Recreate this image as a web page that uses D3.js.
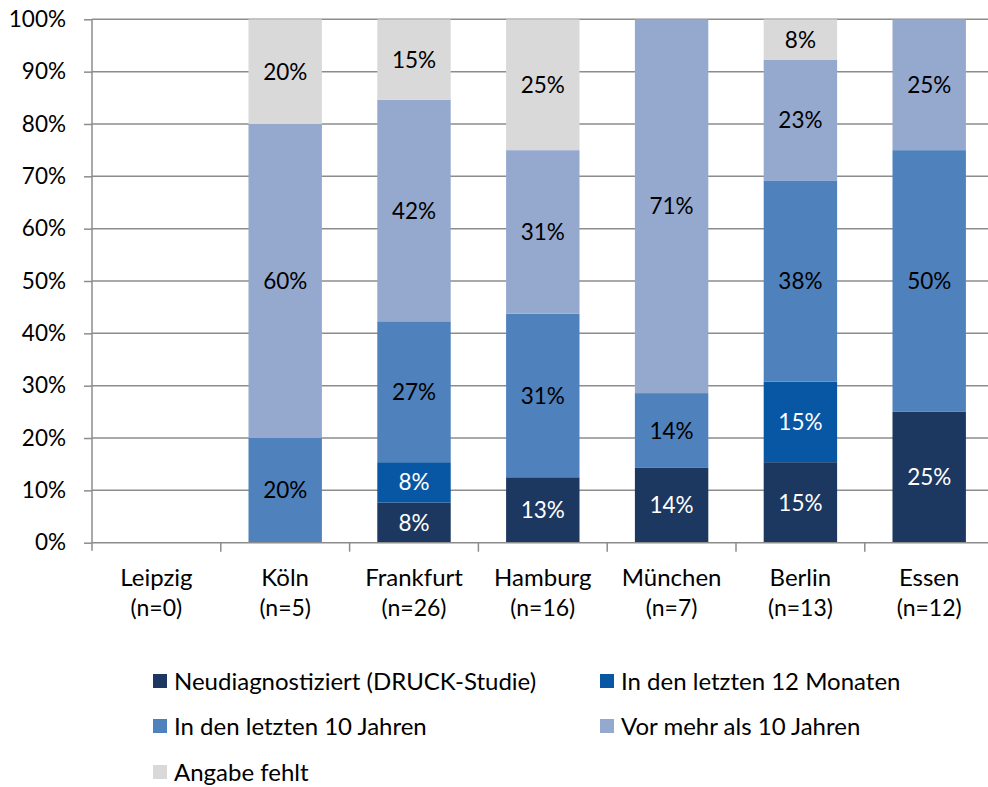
<!DOCTYPE html>
<html><head><meta charset="utf-8">
<script src="https://cdn.jsdelivr.net/npm/d3@7"></script>
<style>html,body{margin:0;padding:0;background:#fff;}svg{display:block;font-family:Lato,"Open Sans",sans-serif;}</style>
</head><body><svg id="c" width="988" height="787"></svg>
<script>
const categories = ["Leipzig","Köln","Frankfurt","Hamburg","München","Berlin","Essen"];
const nLabels = ["(n=0)","(n=5)","(n=26)","(n=16)","(n=7)","(n=13)","(n=12)"];
const seriesNames = ["Neudiagnostiziert (DRUCK-Studie)","In den letzten 12 Monaten","In den letzten 10 Jahren","Vor mehr als 10 Jahren","Angabe fehlt"];
const seriesColors = ["#1c3760","#0757a5","#4f81bd","#95a9cf","#d9d9d9"];
const labelColors = ["#fff","#fff","#000","#000","#000"];
const neudiagnostiziert = [0, 0, 7.69, 12.5, 14.29, 15.38, 25];
const letzte12Monate   = [0, 0, 7.69, 0, 0, 15.38, 0];
const letzte10Jahre    = [0, 20, 26.92, 31.25, 14.29, 38.46, 50];
const mehrAls10Jahre   = [0, 60, 42.31, 31.25, 71.43, 23.08, 25];
const angabeFehlt      = [0, 20, 15.38, 25, 0, 7.69, 0];
const yTicks = [0,10,20,30,40,50,60,70,80,90,100];

(function(){
const seriesValues = [neudiagnostiziert, letzte12Monate, letzte10Jahre, mehrAls10Jahre, angabeFehlt];
const rows = categories.map((c,i)=>{const r={cat:c}; seriesNames.forEach((s,j)=>r[s]=seriesValues[j][i]); return r;});
const stack = d3.stack().keys(seriesNames)(rows);

const svg = d3.select("#c");
const pl = 92, pr = 993.6, pt = 19.3, pb = 542.7;
const x = d3.scaleBand().domain(categories).range([pl,pr]).paddingInner(0.43).paddingOuter(0.215);
const xb = d3.scaleBand().domain(categories).range([pl,pr]);
const y = d3.scaleLinear().domain([0,100]).range([pb,pt]);

svg.append("g").selectAll("line").data(yTicks.filter(t=>t>0)).join("line")
  .attr("x1",pl).attr("x2",988).attr("y1",d=>y(d)).attr("y2",d=>y(d))
  .attr("stroke","#8c8c8c").attr("stroke-width",1.5);

const g = svg.append("g");
stack.forEach((layer,j)=>{
  g.append("g").selectAll("rect").data(layer.map((d,i)=>({d,i}))).join("rect")
    .attr("x",o=>x(categories[o.i])).attr("width",x.bandwidth())
    .attr("y",o=>y(o.d[1])).attr("height",o=>y(o.d[0])-y(o.d[1]))
    .attr("fill",seriesColors[j]);
});
stack.forEach((layer,j)=>{
  g.append("g").selectAll("text").data(layer.map((d,i)=>({d,i})).filter(o=>o.d[1]-o.d[0]>0)).join("text")
    .attr("x",o=>x(categories[o.i])+x.bandwidth()/2)
    .attr("y",o=>y((o.d[0]+o.d[1])/2))
    .attr("dy","0.36em").attr("text-anchor","middle")
    .attr("font-size",22.5).attr("fill",labelColors[j])
    .text(o=>Math.round(o.d[1]-o.d[0])+"%");
});

const yAxis = svg.append("g").attr("transform",`translate(${pl},0)`)
  .call(d3.axisLeft(y).tickValues(yTicks).tickFormat(d=>d+"%").tickSize(8).tickPadding(18));
yAxis.select(".domain").attr("stroke","#8c8c8c").attr("stroke-width",1.5).attr("d",`M0,${pt}V${pb+8}`);
yAxis.selectAll(".tick line").attr("stroke","#8c8c8c").attr("stroke-width",1.5);
yAxis.selectAll(".tick text").attr("font-size",22.5).attr("fill","#000").attr("font-family","Lato,sans-serif");

const xa = svg.append("g");
xa.append("line").attr("x1",pl).attr("x2",988).attr("y1",pb).attr("y2",pb).attr("stroke","#8c8c8c").attr("stroke-width",1.5);
xa.selectAll("line.t").data(categories.slice(1)).join("line").attr("class","t")
  .attr("x1",d=>xb(d)).attr("x2",d=>xb(d)).attr("y1",pb).attr("y2",pb+9)
  .attr("stroke","#8c8c8c").attr("stroke-width",1.5);
xa.selectAll("text.c").data(categories).join("text").attr("class","c")
  .attr("x",d=>xb(d)+xb.bandwidth()/2).attr("y",577).attr("dy","0.36em").attr("text-anchor","middle")
  .attr("font-size",24).text(d=>d);
xa.selectAll("text.n").data(nLabels).join("text").attr("class","n")
  .attr("x",(d,i)=>xb(categories[i])+xb.bandwidth()/2).attr("y",608).attr("dy","0.36em").attr("text-anchor","middle")
  .attr("font-size",23).text(d=>d);

const legPos = [[153,681],[600,681],[153,726],[600,726],[153,772]];
const lg = svg.append("g");
seriesNames.forEach((s,j)=>{
  const [lx,ly] = legPos[j];
  lg.append("rect").attr("x",lx).attr("y",ly-7).attr("width",14).attr("height",14).attr("fill",seriesColors[j]);
  lg.append("text").attr("x",lx+21).attr("y",ly).attr("dy","0.36em").attr("font-size",24).text(s);
});
})();
</script></body></html>
